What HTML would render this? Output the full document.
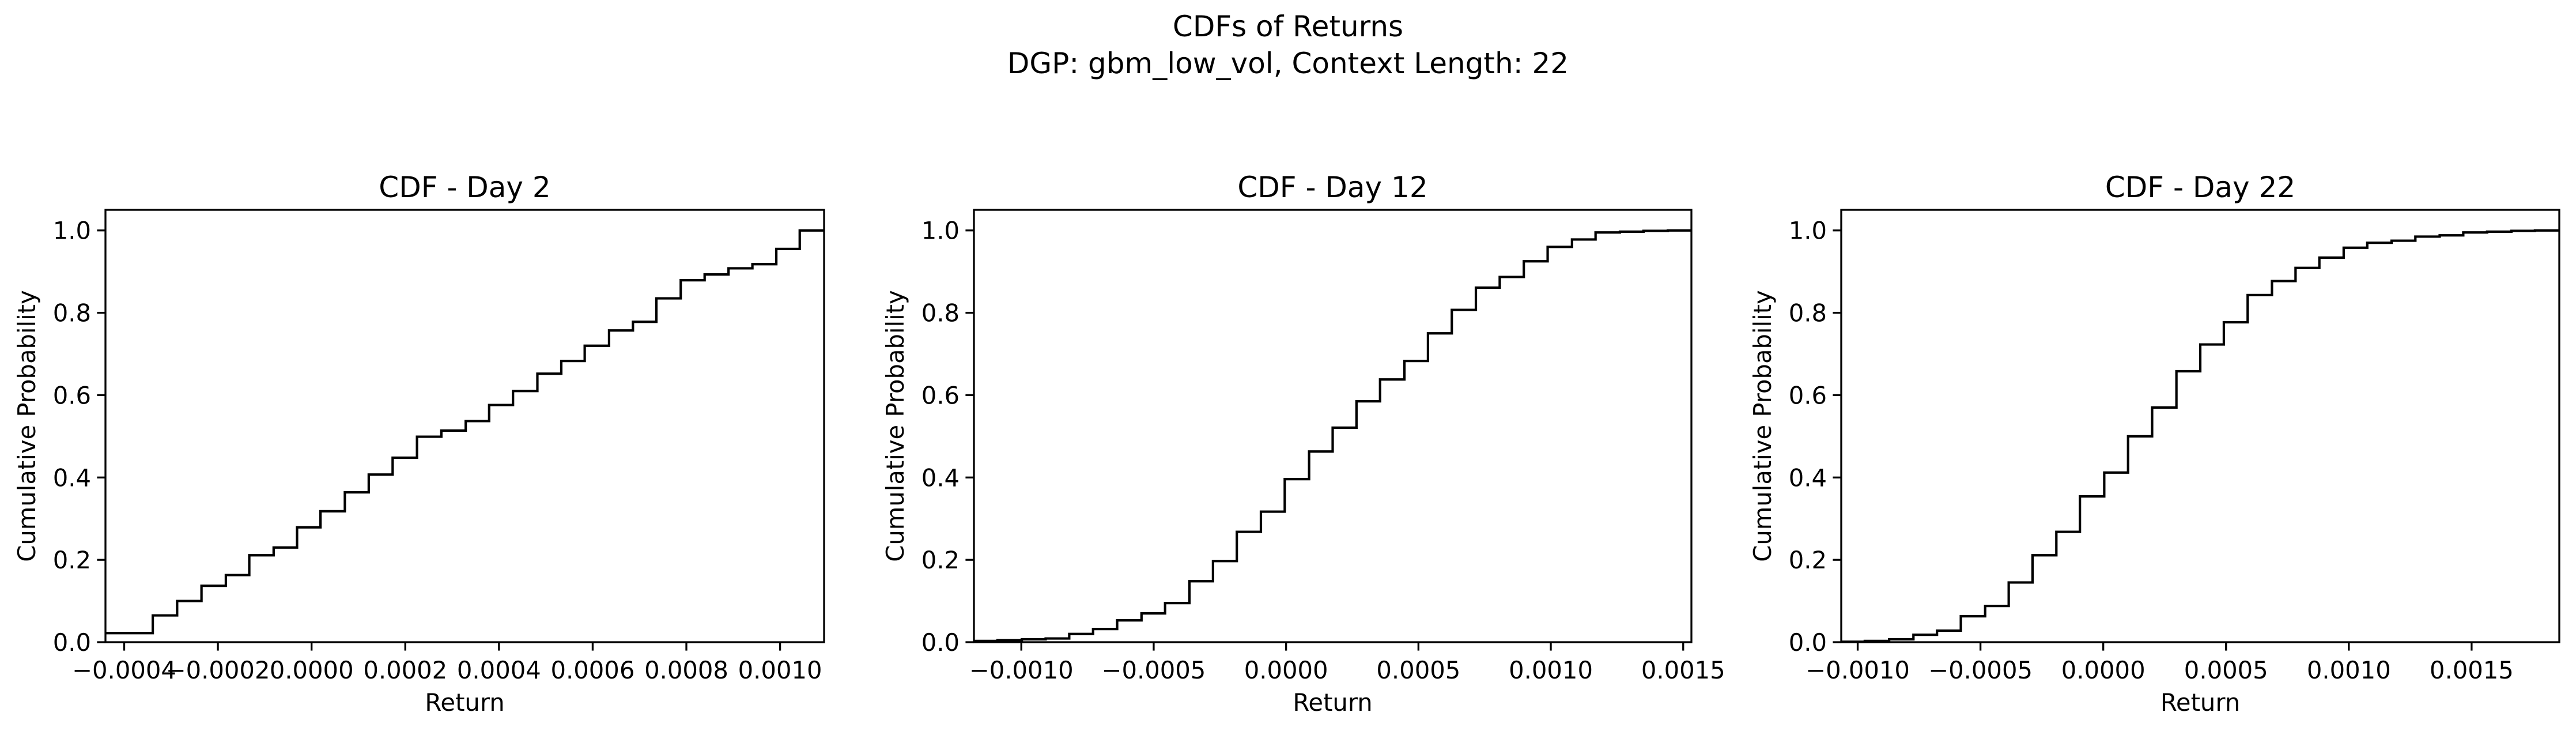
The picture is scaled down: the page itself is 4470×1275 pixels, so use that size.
<!DOCTYPE html>
<html><head><meta charset="utf-8"><style>
html,body{margin:0;padding:0;background:#fff}
svg{display:block}
text{font-family:"DejaVu Sans","Liberation Sans",sans-serif;fill:#000}
</style></head><body>
<svg id="fig" width="4470" height="1275" viewBox="0 0 4470 1275" xmlns="http://www.w3.org/2000/svg">
<rect width="4470" height="1275" fill="#fff"/>
<text x="2235" y="63" font-size="50" text-anchor="middle">CDFs of Returns</text>
<text x="2235" y="127" font-size="50" text-anchor="middle">DGP: gbm_low_vol, Context Length: 22</text>
</svg>
<script>
// Panel 1 (Day 2)
const day2StepX = [-0.000339,-0.000287,-0.000235,-0.000183,-0.000133,-0.000081,-0.000031,0.000019,0.000071,0.000122,0.000173,0.000225,0.000277,0.000329,0.000379,0.00043,0.000482,0.000533,0.000583,0.000635,0.000686,0.000736,0.000788,0.000839,0.00089,0.000941,0.000992,0.001042];
const day2StepY = [0.065,0.10,0.137,0.163,0.211,0.23,0.279,0.318,0.364,0.407,0.448,0.499,0.514,0.537,0.576,0.61,0.652,0.683,0.72,0.757,0.778,0.835,0.879,0.893,0.908,0.918,0.955,1.0];
const day2StartY = 0.022;
const day2XTicks = [-0.0004,-0.0002,0.0,0.0002,0.0004,0.0006,0.0008,0.0010];
const day2XTickLabels = ["\u22120.0004","\u22120.0002","0.0000","0.0002","0.0004","0.0006","0.0008","0.0010"];
// Panel 2 (Day 12)
const day12StepX = [-0.00109,-0.000998,-0.000908,-0.000819,-0.000729,-0.000638,-0.000546,-0.000457,-0.000365,-0.000276,-0.000186,-0.000095,-0.000005,0.000087,0.000176,0.000266,0.000355,0.000447,0.000536,0.000626,0.000717,0.000807,0.000898,0.000988,0.00108,0.001169,0.001261,0.00135,0.001442];
const day12StepY = [0.005,0.007,0.009,0.02,0.032,0.053,0.07,0.095,0.148,0.197,0.268,0.317,0.396,0.463,0.521,0.585,0.638,0.683,0.75,0.807,0.861,0.887,0.925,0.96,0.978,0.995,0.997,0.999,1.0];
const day12StartY = 0.003;
const day12XTicks = [-0.0010,-0.0005,0.0,0.0005,0.0010,0.0015];
const day12XTickLabels = ["\u22120.0010","\u22120.0005","0.0000","0.0005","0.0010","0.0015"];
// Panel 3 (Day 22)
const day22StepX = [-0.000971,-0.000872,-0.000773,-0.000677,-0.00058,-0.000481,-0.000385,-0.000288,-0.000191,-0.000095,0.000004,0.000101,0.000199,0.000298,0.000395,0.000491,0.000588,0.000687,0.000783,0.00088,0.000979,0.001075,0.001174,0.001271,0.00137,0.001466,0.001563,0.001662,0.001758];
const day22StepY = [0.003,0.007,0.018,0.028,0.063,0.088,0.145,0.211,0.268,0.354,0.412,0.5,0.57,0.658,0.723,0.777,0.843,0.877,0.909,0.934,0.958,0.97,0.975,0.985,0.988,0.995,0.997,0.999,1.0];
const day22StartY = 0.001;
const day22XTicks = [-0.0010,-0.0005,0.0,0.0005,0.0010,0.0015];
const day22XTickLabels = ["\u22120.0010","\u22120.0005","0.0000","0.0005","0.0010","0.0015"];
const yTicks = [0,0.2,0.4,0.6,0.8,1.0];
const yTickLabels = ["0.0","0.2","0.4","0.6","0.8","1.0"];
const panelTitles = ["CDF - Day 2","CDF - Day 12","CDF - Day 22"];

const NS = "http://www.w3.org/2000/svg";
const svg = document.getElementById('fig');
function mk(tag, attrs, parent){
  const e = document.createElementNS(NS, tag);
  for (const k in attrs) e.setAttribute(k, attrs[k]);
  (parent||svg).appendChild(e);
  return e;
}
const panels = [
  {L:183,R:1430,xmin:-0.00044,xmax:0.001094,sx:day2StepX,sy:day2StepY,y0:day2StartY,ticks:day2XTicks,labels:day2XTickLabels,name:'day-2'},
  {L:1690,R:2935,xmin:-0.001179,xmax:0.001531,sx:day12StepX,sy:day12StepY,y0:day12StartY,ticks:day12XTicks,labels:day12XTickLabels,name:'day-12'},
  {L:3195,R:4441,xmin:-0.001067,xmax:0.001857,sx:day22StepX,sy:day22StepY,y0:day22StartY,ticks:day22XTicks,labels:day22XTickLabels,name:'day-22'}
];
const T=364, B=1114, ymin=0, ymax=1.05;
panels.forEach((p,i)=>{
  const g = mk('g',{});
  
  
  const X = v => p.L + (v - p.xmin)/(p.xmax - p.xmin)*(p.R - p.L);
  const Y = v => B - (v - ymin)/(ymax - ymin)*(B - T);
  let d = 'M' + p.L + ',' + Y(p.y0);
  let cy = p.y0;
  for (let k=0;k<p.sx.length;k++){
    const x = X(p.sx[k]);
    d += ' L' + x + ',' + Y(cy) + ' L' + x + ',' + Y(p.sy[k]);
    cy = p.sy[k];
  }
  d += ' L' + p.R + ',' + Y(cy);
  const line = mk('path',{d:d,fill:'none',stroke:'#000','stroke-width':4.2,'stroke-linejoin':'miter'},g);
  
  
  const fr = mk('rect',{x:p.L,y:T,width:p.R-p.L,height:B-T,fill:'none',stroke:'#000','stroke-width':3.3},g);
  
  
  yTicks.forEach((v,k)=>{
    const y = Y(v);
    mk('line',{x1:p.L-14.6,x2:p.L,y1:y,y2:y,stroke:'#000','stroke-width':3.3},g);
    const t = mk('text',{x:p.L-25,y:y+15,'font-size':41.7,'text-anchor':'end'},g);
    
    
    t.textContent = yTickLabels[k];
  });
  p.ticks.forEach((v,k)=>{
    const x = X(v);
    mk('line',{x1:x,x2:x,y1:B,y2:B+14.6,stroke:'#000','stroke-width':3.3},g);
    const t = mk('text',{x:x,y:B+63,'font-size':41.7,'text-anchor':'middle'},g);
    
    
    t.textContent = p.labels[k];
  });
  const tt = mk('text',{x:(p.L+p.R)/2,y:T-22,'font-size':50,'text-anchor':'middle'},g);
  
  
  tt.textContent = panelTitles[i];
  const xl = mk('text',{x:(p.L+p.R)/2,y:1233,'font-size':41.7,'text-anchor':'middle'},g);
  
  
  xl.textContent = 'Return';
  const yx = p.L - 122, yc = (T+B)/2;
  const yl = mk('text',{x:yx,y:yc,'font-size':41.7,'text-anchor':'middle',transform:'rotate(-90 '+yx+' '+yc+')'},g);
  
  
  yl.textContent = 'Cumulative Probability';
});
</script>
</body></html>
